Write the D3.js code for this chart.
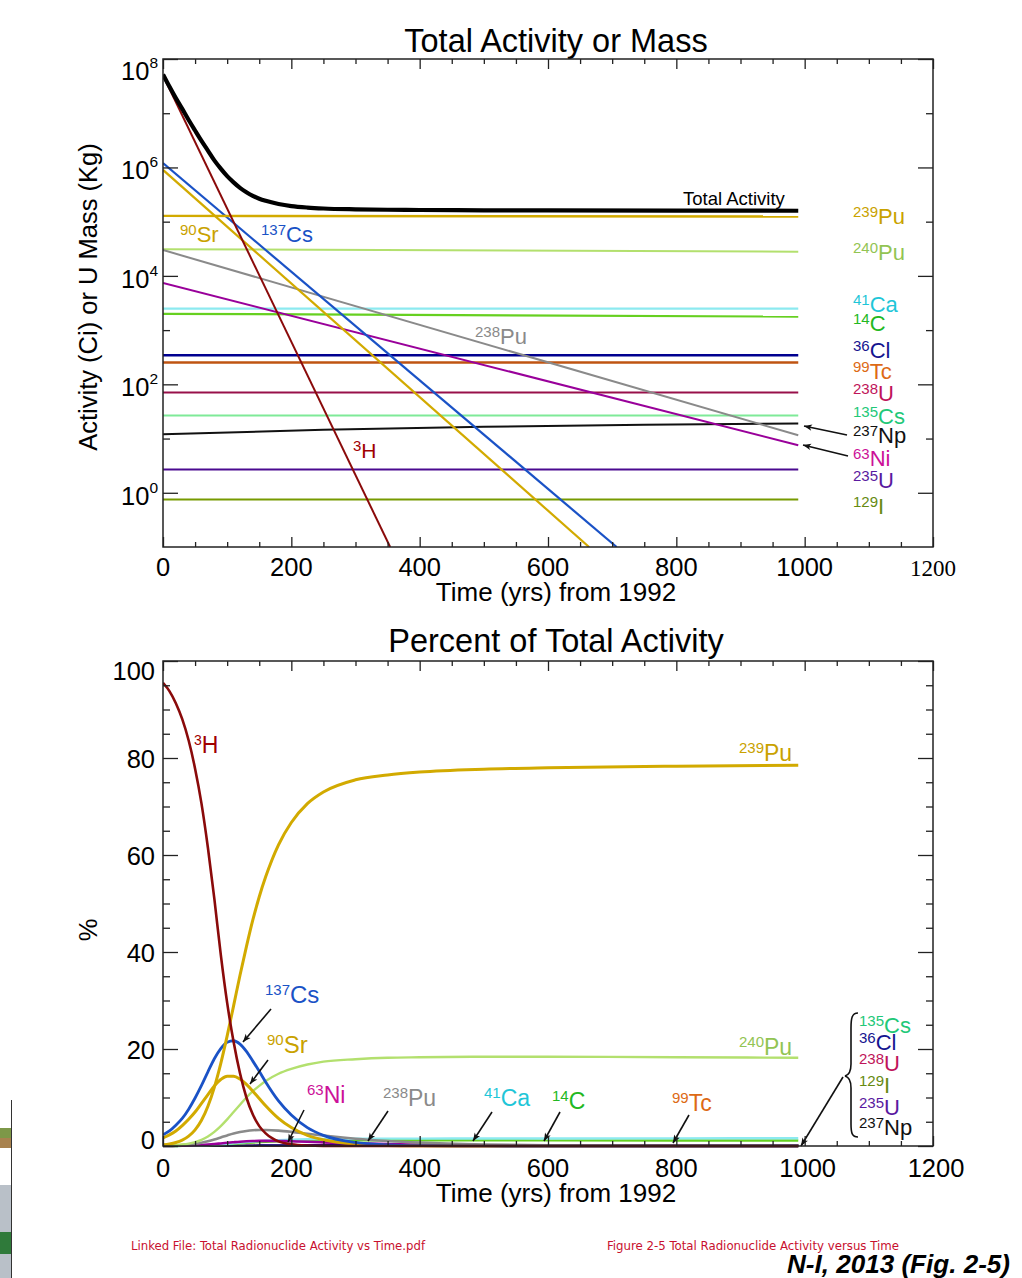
<!DOCTYPE html>
<html><head><meta charset="utf-8">
<script src="https://cdn.jsdelivr.net/npm/d3@7"></script>
<style>
body{margin:0;background:#fff;}
svg{display:block;font-family:"Liberation Sans",Arial,Helvetica,sans-serif;}
</style></head><body>
<svg id="c" width="1022" height="1278"></svg>
<script>
// ---------------- DATA ----------------
// Top panel: activity (Ci) or U mass (kg) vs years from 1992 (log scale)
const yrsH3 = [0, 354];          const actH3 = [5.0e7, 0.1];
const yrsCs137 = [0, 707];       const actCs137 = [1.2e6, 0.1];
const yrsSr90 = [0, 664];        const actSr90 = [9.0e5, 0.1];
const yrsFlat = [0, 990];
const actPu239 = [1.28e5, 1.245e5];
const actPu240 = [3.1e4, 2.8e4];
const actPu238 = [3.0e4, 11.5];
const actNi63 = [7.4e3, 7.5];
const actCa41 = [2.5e3, 2.5e3];
const actC14 = [2.0e3, 1.77e3];
const actCl36 = [344, 344];
const actTc99 = [252, 252];
const massU238 = [71, 71];
const actCs135 = [26.5, 26.5];
const yrsNp237 = [0, 250, 500, 750, 990];
const actNp237 = [12, 14.5, 16.5, 18, 19];
const massU235 = [2.7, 2.7];
const actI129 = [0.75, 0.75];
const totalYears = [0,10,20,30,40,50,60,70,80,90,100,110,120,130,140,150,160,180,200,225,250,300,350,400,500,600,800,990];
const totalAct = [5.2e7,3.1e7,1.9e7,1.2e7,7.5e6,4.8e6,3.1e6,2.05e6,1.35e6,9.5e5,6.9e5,5.3e5,4.2e5,3.5e5,3.0e5,2.65e5,2.42e5,2.12e5,1.94e5,1.82e5,1.75e5,1.69e5,1.66e5,1.64e5,1.62e5,1.61e5,1.6e5,1.59e5];
const yTickExponents = [0, 2, 4, 6, 8];
const xTickLabels = [0, 200, 400, 600, 800, 1000, 1200];

// Bottom panel: percent of total activity
const pctYears = [0,10,20,30,40,50,60,70,80,90,100,110,120,130,140,150,160,180,200,225,250,300,350,400,500,600,800,990];
const pctH3 =    [95.5,93.8,91.3,88,83.6,77.8,70.6,61.5,51,39.5,29.5,21.5,15,10,6.5,4.1,2.6,0.95,0.34,0.09,0.02,0,0,0,0,0,0,0];
const pctPu239 = [0.25,0.42,0.72,1.22,2.04,3.33,5.3,8.2,12.1,17.0,22.7,28.9,35.2,41.1,46.6,51.4,55.5,62.1,66.7,70.6,73.0,75.5,76.5,77.1,77.7,78.0,78.3,78.5];
const pctCs137 = [2.3,3.1,4.3,5.7,7.6,9.9,12.5,15.3,18.0,20.1,21.4,21.7,21.0,19.5,17.5,15.4,13.2,9.3,6.4,3.8,2.2,0.73,0.24,0.08,0.01,0,0,0];
const pctSr90 =  [1.7,2.3,3.1,4.2,5.5,7.0,8.8,10.6,12.4,13.7,14.4,14.4,13.8,12.7,11.3,9.8,8.3,5.7,3.8,2.2,1.3,0.39,0.12,0.04,0,0,0,0];
const pctPu240 = [0.06,0.10,0.18,0.30,0.49,0.81,1.28,1.98,2.92,4.11,5.5,7.0,8.5,10.0,11.3,12.4,13.4,14.9,15.9,16.8,17.4,17.9,18.2,18.3,18.4,18.4,18.3,18.2];
const pctPu238 = [0.05,0.08,0.13,0.21,0.32,0.48,0.69,0.99,1.35,1.76,2.18,2.57,2.87,3.1,3.25,3.31,3.3,3.17,2.92,2.53,2.15,1.5,1.03,0.7,0.32,0.14,0.03,0.01];
const pctNi63 =  [0.01,0.02,0.04,0.06,0.09,0.14,0.2,0.29,0.4,0.53,0.66,0.78,0.89,0.97,1.02,1.05,1.06,1.03,0.97,0.87,0.75,0.55,0.4,0.28,0.14,0.07,0.02,0.01];
const pctCa41 =  [0.005,0.008,0.014,0.024,0.04,0.065,0.1,0.16,0.235,0.33,0.44,0.57,0.69,0.8,0.91,1.0,1.08,1.21,1.31,1.39,1.44,1.49,1.52,1.53,1.55,1.56,1.58,1.59];
const pctC14 =   [0.004,0.007,0.011,0.019,0.032,0.052,0.083,0.127,0.188,0.265,0.355,0.45,0.55,0.64,0.73,0.8,0.86,0.97,1.04,1.1,1.14,1.18,1.19,1.2,1.18,1.16,1.14,1.13];
const pctTc99 =  [0,0,0,0,0.004,0.007,0.01,0.016,0.024,0.033,0.045,0.057,0.069,0.081,0.092,0.101,0.109,0.122,0.132,0.14,0.145,0.15,0.153,0.154,0.156,0.157,0.158,0.16];
const pctCl36 =  [0,0,0,0,0.005,0.009,0.014,0.022,0.032,0.046,0.061,0.078,0.095,0.11,0.125,0.138,0.149,0.167,0.18,0.19,0.198,0.205,0.209,0.211,0.213,0.215,0.217,0.219];
const minorYears = [0, 100, 200, 300, 600, 990];
const pctU238 =  [0, 0.013, 0.037, 0.042, 0.044, 0.045];
const pctCs135 = [0, 0.005, 0.014, 0.016, 0.017, 0.017];
const pctNp237 = [0, 0.002, 0.008, 0.009, 0.011, 0.012];
const pctU235 =  [0, 0, 0.001, 0.002, 0.002, 0.002];
const pctI129 =  [0, 0, 0, 0, 0, 0.0005];
const pctTicks = [0, 20, 40, 60, 80, 100];

// ---------------- COLOURS ----------------
const C = {
  H3:'#8a0a0a', H3t:'#a00000', Cs137:'#1a52c6', Sr:'#d2aa00', Srt:'#c9a200',
  Pu240:'#b3e06e', Pu240t:'#92c453', Pu238:'#8a8a8a', Ni:'#99009a', Nit:'#cc1199',
  Ca:'#8ceaf0', Cat:'#1fc6d8', C14:'#66d020', C14t:'#22b822', Cl:'#000090', Clt:'#15158f',
  Tc:'#bf5412', Tct:'#dd6a15', U238:'#98104a', U238t:'#c0145a', Cs135:'#7eea98', Cs135t:'#22c878',
  Np:'#111', U235:'#4a0a90', U235t:'#5a1aa0', I:'#779a00', It:'#668a10'
};

const svg = d3.select('#c');
const defs = svg.append('defs');
defs.append('marker').attr('id','ah').attr('viewBox','0 0 10 10').attr('refX',10).attr('refY',5)
  .attr('markerWidth',10).attr('markerHeight',8).attr('markerUnits','userSpaceOnUse').attr('orient','auto')
  .append('path').attr('d','M0,1 L10,5 L0,9 L2.5,5 Z').attr('fill','#111');

// ---------------- SCALES ----------------
const xT = d3.scaleLinear().domain([0,1200]).range([163,933]);
const yT = d3.scaleLog().domain([0.1,1e8]).range([547,59]);
const xB = d3.scaleLinear().domain([0,1200]).range([163,933]);
const yB = d3.scaleLinear().domain([0,100]).range([1146,661]);

defs.append('clipPath').attr('id','clipT').append('rect').attr('x',163).attr('y',59).attr('width',770).attr('height',488);
defs.append('clipPath').attr('id','clipB').append('rect').attr('x',163).attr('y',655).attr('width',770).attr('height',493);

function styleAxis(g){
  g.select('.domain').remove();
  g.selectAll('.tick line').attr('stroke','#222').attr('stroke-width',1.3);
}

function frame(x, y, majY, minY, majLen){
  const y0 = y.range()[0], y1 = y.range()[1], x0 = x.range()[0], x1 = x.range()[1];
  const majX = d3.range(0,1201,200), minX = d3.range(0,1201,50).filter(v=>v%200!==0);
  const g = svg.append('g');
  g.append('g').attr('transform',`translate(0,${y0})`).call(d3.axisBottom(x).tickValues(majX).tickSize(-10).tickFormat('')).call(styleAxis);
  g.append('g').attr('transform',`translate(0,${y0})`).call(d3.axisBottom(x).tickValues(minX).tickSize(-5).tickFormat('')).call(styleAxis);
  g.append('g').attr('transform',`translate(0,${y1})`).call(d3.axisTop(x).tickValues(majX).tickSize(-10).tickFormat('')).call(styleAxis);
  g.append('g').attr('transform',`translate(0,${y1})`).call(d3.axisTop(x).tickValues(minX).tickSize(-5).tickFormat('')).call(styleAxis);
  g.append('g').attr('transform',`translate(${x0},0)`).call(d3.axisLeft(y).tickValues(majY).tickSize(-majLen).tickFormat('')).call(styleAxis);
  g.append('g').attr('transform',`translate(${x0},0)`).call(d3.axisLeft(y).tickValues(minY).tickSize(-7).tickFormat('')).call(styleAxis);
  g.append('g').attr('transform',`translate(${x1},0)`).call(d3.axisRight(y).tickValues(majY).tickSize(-majLen).tickFormat('')).call(styleAxis);
  g.append('g').attr('transform',`translate(${x1},0)`).call(d3.axisRight(y).tickValues(minY).tickSize(-7).tickFormat('')).call(styleAxis);
  g.append('rect').attr('x',x0).attr('y',y1).attr('width',x1-x0).attr('height',y0-y1)
    .attr('fill','none').attr('stroke','#222').attr('stroke-width',1.5);
  return g;
}

function nucLabel(g, x, y, sup, main, color, size, supSize, rise){
  const t = g.append('text').attr('x',x).attr('y',y).attr('fill',color).style('font-size',size+'px');
  t.append('tspan').text(sup).style('font-size',supSize+'px').attr('dy',-rise);
  t.append('tspan').text(main).attr('dy',rise);
  return t;
}
function arrow(g, x1, y1, x2, y2){
  g.append('line').attr('x1',x1).attr('y1',y1).attr('x2',x2).attr('y2',y2)
    .attr('stroke','#111').attr('stroke-width',1.6).attr('marker-end','url(#ah)');
}

// ================= TOP PANEL =================
const topG = svg.append('g');
topG.append('text').attr('x',556).attr('y',52).attr('text-anchor','middle').style('font-size','32.5px').text('Total Activity or Mass');

const lineT = d3.line().curve(d3.curveMonotoneX).x(d=>xT(d[0])).y(d=>yT(d[1]));
const zipT = (xs, vs) => xs.map((v,i)=>[v, vs[i]]);
const topSeries = [
  [yrsFlat, actI129, C.I, 2],
  [yrsFlat, massU235, C.U235, 2],
  [yrsFlat, actCs135, C.Cs135, 2],
  [yrsFlat, massU238, C.U238, 2],
  [yrsFlat, actTc99, C.Tc, 2.4],
  [yrsFlat, actCl36, C.Cl, 2.4],
  [yrsFlat, actC14, C.C14, 2.2],
  [yrsFlat, actCa41, C.Ca, 2.2],
  [yrsFlat, actPu240, C.Pu240, 2],
  [yrsNp237, actNp237, C.Np, 2],
  [yrsFlat, actPu238, C.Pu238, 2],
  [yrsFlat, actNi63, C.Ni, 2],
  [yrsSr90, actSr90, C.Sr, 2.2],
  [yrsCs137, actCs137, C.Cs137, 2.2],
  [yrsFlat, actPu239, C.Sr, 2.4],
  [yrsH3, actH3, C.H3, 2],
  [totalYears, totalAct, '#000', 4.2]
];
const plotT = topG.append('g').attr('clip-path','url(#clipT)');
topSeries.forEach(([xs, vs, col, w]) => {
  plotT.append('path').datum(zipT(xs, vs)).attr('d', lineT).attr('fill','none')
    .attr('stroke', col).attr('stroke-width', w).attr('stroke-linejoin','round');
});

frame(xT, yT, yTickExponents.map(e=>Math.pow(10,e)), [1,3,5,7].map(e=>Math.pow(10,e)), 15);

// y tick labels 10^n
yTickExponents.forEach(e => {
  const yy = yT(Math.pow(10,e)) + (e===8 ? 21 : 12);
  const t = topG.append('text').attr('x',158).attr('y',yy).attr('text-anchor','end').style('font-size','25.5px');
  t.append('tspan').text('10');
  t.append('tspan').text(e).style('font-size','15.5px').attr('dy',-12);
});
// x tick labels
xTickLabels.forEach(v => {
  const last = v===1200;
  topG.append('text').attr('x',xT(v)).attr('y',576).attr('text-anchor','middle')
    .style('font-size', last ? '23px' : '25.5px')
    .style('font-family', last ? '"Liberation Serif","Times New Roman",serif' : null)
    .text(v);
});
topG.append('text').attr('x',556).attr('y',601).attr('text-anchor','middle').style('font-size','26px').text('Time (yrs) from 1992');
topG.append('text').attr('transform','translate(97,297) rotate(-90)').attr('text-anchor','middle').style('font-size','25.5px').text('Activity (Ci) or U Mass (Kg)');

// labels top
topG.append('text').attr('x',683).attr('y',205).style('font-size','18.5px').text('Total Activity');
const rl = [
  ['239','Pu',C.Srt,224],['240','Pu',C.Pu240t,260],['41','Ca',C.Cat,312],['14','C',C.C14t,331],
  ['36','Cl',C.Clt,358],['99','Tc',C.Tct,379],['238','U',C.U238t,401],['135','Cs',C.Cs135t,424],
  ['237','Np','#111',443],['63','Ni',C.Nit,466],['235','U',C.U235t,488],['129','I',C.It,514]
];
rl.forEach(([s,m,col,yy]) => nucLabel(topG, 853, yy, s, m, col, 22, 15, 7));
arrow(topG, 847, 435, 804, 426);
arrow(topG, 848, 456, 803, 445);
nucLabel(topG, 180, 242, '90', 'Sr', C.Srt, 22, 15, 7);
nucLabel(topG, 261, 242, '137', 'Cs', C.Cs137, 22, 15, 7);
nucLabel(topG, 475, 344, '238', 'Pu', '#8a8a8a', 22, 15, 7);
nucLabel(topG, 353, 458, '3', 'H', C.H3t, 21, 15, 7);

// ================= BOTTOM PANEL =================
const botG = svg.append('g');
botG.append('text').attr('x',556).attr('y',652).attr('text-anchor','middle').style('font-size','32.5px').text('Percent of Total Activity');

const lineB = d3.line().curve(d3.curveMonotoneX).x(d=>xB(d[0])).y(d=>yB(d[1]));
const botSeries = [
  [minorYears, pctI129, C.I, 2],
  [minorYears, pctU235, C.U235, 2],
  [minorYears, pctNp237, C.Np, 2],
  [minorYears, pctCs135, C.Cs135, 2],
  [minorYears, pctU238, C.U238, 2],
  [pctYears, pctTc99, C.Tc, 2],
  [pctYears, pctCl36, C.Cl, 2],
  [pctYears, pctC14, C.C14, 2.4],
  [pctYears, pctCa41, C.Ca, 2.4],
  [pctYears, pctNi63, C.Ni, 2.6],
  [pctYears, pctPu238, C.Pu238, 2.6],
  [pctYears, pctPu240, C.Pu240, 2.4],
  [pctYears, pctSr90, C.Sr, 3],
  [pctYears, pctCs137, C.Cs137, 2.8],
  [pctYears, pctPu239, C.Sr, 3],
  [pctYears, pctH3, C.H3, 2.6]
];
const plotB = botG.append('g').attr('clip-path','url(#clipB)');
botSeries.forEach(([xs, vs, col, w]) => {
  plotB.append('path').datum(zipT(xs, vs)).attr('d', lineB).attr('fill','none')
    .attr('stroke', col).attr('stroke-width', w).attr('stroke-linejoin','round');
});

frame(xB, yB, pctTicks, d3.range(0,101,5).filter(v=>v%20!==0), 15);

pctTicks.forEach(v => {
  const off = v===100 ? 19 : (v===0 ? 3 : 10);
  botG.append('text').attr('x',155).attr('y',yB(v)+off).attr('text-anchor','end').style('font-size','25.5px').text(v);
});
xTickLabels.forEach(v => {
  botG.append('text').attr('x',xB(v) + (v>=1000 ? 3 : 0)).attr('y',1177).attr('text-anchor','middle').style('font-size','25.5px').text(v);
});
botG.append('text').attr('x',556).attr('y',1202).attr('text-anchor','middle').style('font-size','26px').text('Time (yrs) from 1992');
botG.append('text').attr('transform','translate(97,930) rotate(-90)').attr('text-anchor','middle').style('font-size','25.5px').text('%');

nucLabel(botG, 194, 753, '3', 'H', C.H3t, 23, 14, 8);
nucLabel(botG, 739, 761, '239', 'Pu', C.Srt, 23, 15, 8);
nucLabel(botG, 265, 1003, '137', 'Cs', C.Cs137, 24, 15, 8);
nucLabel(botG, 267, 1053, '90', 'Sr', C.Srt, 24, 15, 8);
nucLabel(botG, 307, 1103, '63', 'Ni', C.Nit, 23, 15, 8);
nucLabel(botG, 383, 1106, '238', 'Pu', '#8a8a8a', 23, 15, 8);
nucLabel(botG, 484, 1106, '41', 'Ca', C.Cat, 23, 15, 8);
nucLabel(botG, 552, 1109, '14', 'C', C.C14t, 23, 15, 8);
nucLabel(botG, 672, 1111, '99', 'Tc', C.Tct, 23, 15, 8);
nucLabel(botG, 739, 1055, '240', 'Pu', C.Pu240t, 23, 15, 8);
arrow(botG, 271, 1009, 243, 1042);
arrow(botG, 268, 1060, 250, 1084);
arrow(botG, 304, 1110, 288, 1142);
arrow(botG, 388, 1111, 368, 1141);
arrow(botG, 492, 1112, 473, 1141);
arrow(botG, 560, 1112, 544, 1141);
arrow(botG, 689, 1115, 673, 1143);
arrow(botG, 843, 1077, 801, 1146);

const grp = [
  ['135','Cs',C.Cs135t,1033],['36','Cl',C.Clt,1050],['238','U',C.U238t,1071],
  ['129','I',C.It,1093],['235','U',C.U235t,1115],['237','Np','#111',1135]
];
grp.forEach(([s,m,col,yy]) => nucLabel(botG, 859, yy, s, m, col, 22, 15, 7));
botG.append('path')
  .attr('d','M858,1013 C852,1013 851,1018 851,1028 L851,1064 C851,1071 849,1075 845,1076 C849,1077 851,1081 851,1088 L851,1124 C851,1133 852,1137 858,1137')
  .attr('fill','none').attr('stroke','#111').attr('stroke-width',1.6);

// ================= FOOTER & PAGE EDGE =================
const foot = svg.append('g');
foot.append('text').attr('x',131).attr('y',1250).attr('fill','#c8102e')
  .style('font-family','"Liberation Sans Narrow","DejaVu Sans Condensed",sans-serif').style('font-size','13px')
  .attr('textLength',294).attr('lengthAdjust','spacingAndGlyphs')
  .text('Linked File: Total Radionuclide  Activity vs Time.pdf');
foot.append('text').attr('x',607).attr('y',1250).attr('fill','#c8102e')
  .style('font-family','"Liberation Sans Narrow","DejaVu Sans Condensed",sans-serif').style('font-size','13px')
  .attr('textLength',292).attr('lengthAdjust','spacingAndGlyphs')
  .text('Figure 2-5 Total Radionuclide  Activity versus Time');
foot.append('text').attr('x',787).attr('y',1273).attr('fill','#000')
  .style('font-family','"Liberation Sans Narrow","Liberation Sans",sans-serif').style('font-size','26px')
  .style('font-weight','bold').style('font-style','italic')
  .attr('textLength',223).attr('lengthAdjust','spacingAndGlyphs')
  .text('N-I, 2013 (Fig. 2-5)');

const edge = svg.append('g');
edge.append('rect').attr('x',0).attr('y',1128).attr('width',11).attr('height',10).attr('fill','#7d9848');
edge.append('rect').attr('x',0).attr('y',1138).attr('width',11).attr('height',10).attr('fill','#a8824e');
edge.append('rect').attr('x',0).attr('y',1185).attr('width',11).attr('height',93).attr('fill','#b9c0c8');
edge.append('rect').attr('x',0).attr('y',1232).attr('width',11).attr('height',22).attr('fill','#2f7a3a');
edge.append('line').attr('x1',11.5).attr('x2',11.5).attr('y1',1100).attr('y2',1278).attr('stroke','#333').attr('stroke-width',1);
</script>
</body></html>
